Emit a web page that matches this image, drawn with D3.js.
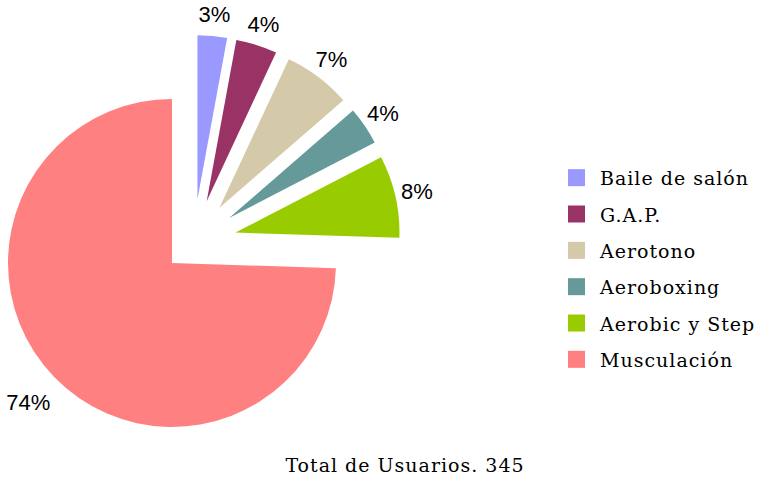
<!DOCTYPE html>
<html>
<head>
<meta charset="utf-8">
<script src="https://cdn.jsdelivr.net/npm/d3@7"></script>
<style>
    body { margin: 0; background: #fff; }
    svg { display: block; }
    .pct { font-family: "Liberation Sans", Arial, sans-serif; font-size: 22px; fill: #000; }
    .legend-text, .total { font-family: "DejaVu Serif", serif; font-size: 19px; letter-spacing: 1px; fill: #000; }
</style>
</head>
<body>
<div id="chart"></div>
<script>
// --- chart data ---
const categories = ['Baile de salón', 'G.A.P.', 'Aerotono', 'Aeroboxing', 'Aerobic y Step', 'Musculación'];
const usuarios = [10, 14, 23, 13, 28, 257];
const exploded = [true, true, true, true, true, false];
const colors = ['#9999ff', '#993366', '#d4c9a8', '#669999', '#99cc00', '#ff8080'];
const totalLabel = 'Total de Usuarios. ';

const width = 758, height = 480;
const cx = 172, cy = 263, radius = 164;
const groupExplode = 30, sliceExplode = 43;
const labelRadius = radius + 22;

const total = d3.sum(usuarios);
const fmtPct = d3.format('.0%');

const svg = d3.select('#chart').append('svg')
    .attr('width', width)
    .attr('height', height);

const rows = categories.map((name, i) => ({ name, value: usuarios[i], color: colors[i], exploded: exploded[i] }));

const pie = d3.pie().sort(null).value(d => d.value);
const arcs = pie(rows);
const arc = d3.arc().innerRadius(0).outerRadius(radius);

// unit vector for an angle measured clockwise from 12 o'clock
const dir = a => [Math.sin(a), -Math.cos(a)];

// the small slices are pulled out together, then each one apart
const grp = arcs.filter(d => d.data.exploded);
const groupMid = (d3.min(grp, d => d.startAngle) + d3.max(grp, d => d.endAngle)) / 2;
const gv = dir(groupMid);

arcs.forEach(d => {
    const mid = (d.startAngle + d.endAngle) / 2;
    const m = dir(mid);
    if (d.data.exploded) {
        d.ox = gv[0] * groupExplode + m[0] * sliceExplode;
        d.oy = gv[1] * groupExplode + m[1] * sliceExplode;
    } else {
        d.ox = 0; d.oy = 0;
    }
    // big slice keeps its label a little further out
    const lr = d.data.exploded ? labelRadius : labelRadius + 14;
    d.lx = d.ox + m[0] * lr;
    d.ly = d.oy + m[1] * lr;
});

const g = svg.append('g').attr('transform', `translate(${cx},${cy})`);

g.selectAll('path.slice')
    .data(arcs)
    .join('path')
    .attr('class', 'slice')
    .attr('transform', d => `translate(${d.ox},${d.oy})`)
    .attr('d', arc)
    .attr('fill', d => d.data.color);

g.selectAll('text.pct')
    .data(arcs)
    .join('text')
    .attr('class', 'pct')
    .attr('x', d => d.lx)
    .attr('y', d => d.ly)
    .attr('text-anchor', 'middle')
    .attr('dominant-baseline', 'central')
    .text(d => fmtPct(d.value / total));

// --- legend ---
const legendY = d3.scaleBand().domain(categories).range([160, 378]);
const legend = svg.append('g').attr('transform', 'translate(568,0)');

const item = legend.selectAll('g.item')
    .data(rows)
    .join('g')
    .attr('class', 'item')
    .attr('transform', d => `translate(0,${legendY(d.name) + legendY.bandwidth() / 2})`);

item.append('rect')
    .attr('x', 0)
    .attr('y', -9)
    .attr('width', 17)
    .attr('height', 17)
    .attr('fill', d => d.color);

item.append('text')
    .attr('class', 'legend-text')
    .attr('x', 32)
    .attr('y', 7)
    .text(d => d.name);

svg.append('text')
    .attr('class', 'total')
    .attr('x', 405)
    .attr('y', 472)
    .attr('text-anchor', 'middle')
    .text(totalLabel + total);
</script>
</body>
</html>
